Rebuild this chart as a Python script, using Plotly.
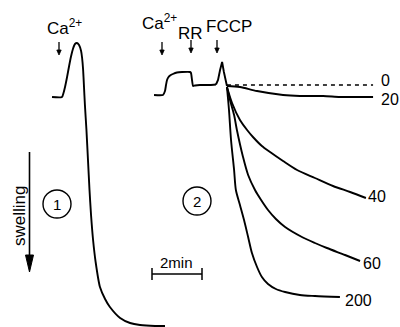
import plotly.graph_objects as go

# ---------------- data (time in min, signal in a.u.) ----------------
# trace 1: Ca2+ addition, full swelling
t1 = [2.04, 2.43, 2.49, 2.55, 2.63, 2.71, 2.78, 2.86, 2.94, 3.02, 3.10, 3.18, 3.22, 3.26,
      3.29, 3.33, 3.39, 3.45, 3.51, 3.57, 3.65, 3.75, 3.92, 4.12, 4.31, 4.71, 5.10, 5.49,
      6.08, 6.47]
s1 = [2.30, 2.30, 2.34, 2.40, 2.50, 2.61, 2.70, 2.78, 2.83, 2.84, 2.82, 2.76, 2.69, 2.57,
      2.42, 2.22, 1.97, 1.67, 1.37, 1.12, 0.87, 0.65, 0.40, 0.28, 0.20, 0.09, 0.04, 0.02,
      0.01, 0.01]

# trace 2: Ca2+, RR, then FCCP
t2 = [6.04, 6.39, 6.47, 6.51, 6.55, 6.61, 6.67, 6.78, 6.94, 7.14, 7.45, 7.49, 7.53, 7.57,
      7.65, 7.84, 8.24, 8.47]
s2 = [2.32, 2.32, 2.36, 2.42, 2.47, 2.50, 2.515, 2.53, 2.545, 2.55, 2.55, 2.54, 2.47, 2.41,
      2.415, 2.42, 2.42, 2.425]
t_fccp = [8.47, 8.55, 8.63, 8.71, 8.78, 8.86, 8.90]
s_fccp = [2.425, 2.47, 2.57, 2.65, 2.55, 2.43, 2.41]

# branches after FCCP (labels = concentration)
t_0 = [8.90, 14.63]
s_0 = [2.42, 2.42]

t_20 = [8.90, 9.41, 10.08, 11.10, 11.76, 12.67, 13.33, 13.92, 14.63]
s_20 = [2.41, 2.40, 2.36, 2.32, 2.31, 2.31, 2.30, 2.30, 2.30]

t_40 = [8.90, 9.10, 9.41, 9.69, 9.92, 10.27, 10.59, 11.10, 11.65, 12.35, 13.06, 13.73, 14.35]
s_40 = [2.40, 2.24, 2.07, 1.97, 1.90, 1.81, 1.75, 1.66, 1.57, 1.49, 1.41, 1.35, 1.29]

t_60 = [8.90, 9.02, 9.18, 9.29, 9.53, 9.73, 10.00, 10.24, 10.51, 10.82, 11.18, 11.84, 12.35,
        12.82, 13.53, 14.12]
s_60 = [2.40, 2.27, 2.12, 1.97, 1.70, 1.52, 1.37, 1.27, 1.17, 1.08, 1.00, 0.90, 0.84, 0.79,
        0.72, 0.66]

t_200 = [8.90, 8.98, 9.06, 9.18, 9.25, 9.41, 9.57, 9.73, 9.88, 10.08, 10.27, 10.51, 10.82,
         11.18, 11.76, 12.35, 13.33]
s_200 = [2.40, 2.17, 1.87, 1.57, 1.37, 1.22, 1.07, 0.90, 0.74, 0.60, 0.50, 0.43, 0.38, 0.35,
         0.32, 0.31, 0.30]

branch_labels = ["0", "20", "40", "60", "200"]

# ---------------- figure ----------------
W, H = 400, 327
PX_PER_MIN = 25.5
PX_PER_UNIT = 100.0


def X(px):
    return px / PX_PER_MIN


def Y(py):
    return (H - py) / PX_PER_UNIT


FONT = "Liberation Sans, Arial, sans-serif"
LINE = dict(color="black", width=1.9)

fig = go.Figure()
fig.add_trace(go.Scatter(x=t1, y=s1, mode="lines", line=dict(**LINE, shape="spline", smoothing=0.6)))
fig.add_trace(go.Scatter(x=t2, y=s2, mode="lines", line=dict(**LINE, shape="spline", smoothing=0.5)))
fig.add_trace(go.Scatter(x=t_fccp, y=s_fccp, mode="lines", line=LINE))
fig.add_trace(go.Scatter(x=t_0, y=s_0, mode="lines", line=dict(color="black", width=1.7, dash="4px,4px")))
for tt, ss in [(t_20, s_20), (t_40, s_40), (t_60, s_60), (t_200, s_200)]:
    fig.add_trace(go.Scatter(x=tt, y=ss, mode="lines", line=dict(**LINE, shape="spline", smoothing=0.8)))

ann = []
shapes = []


def txt(s, px, py, size=15, **kw):
    d = dict(x=X(px), y=Y(py), text=s, showarrow=False,
             font=dict(family=FONT, size=size, color="black"),
             xanchor="center", yanchor="middle")
    d.update(kw)
    ann.append(d)


def down_arrow(px, py_top, py_tip, hw=2.2, hl=5, width=1.3):
    shapes.append(dict(type="line", x0=X(px), x1=X(px), y0=Y(py_top), y1=Y(py_tip - hl + 1),
                       line=dict(color="black", width=width)))
    shapes.append(dict(type="path",
                       path=f"M {X(px - hw)},{Y(py_tip - hl)} L {X(px + hw)},{Y(py_tip - hl)} "
                            f"L {X(px)},{Y(py_tip)} Z",
                       fillcolor="black", line=dict(color="black", width=0.8)))


# labels above traces
txt("Ca<sup>2+</sup>", 64, 27, size=17)
down_arrow(59, 42, 55)
txt("Ca<sup>2+</sup>", 159, 22, size=17)
down_arrow(162, 42, 55)
txt("RR", 190, 33, size=17)
down_arrow(191, 40, 53)
txt("FCCP", 229, 26, size=17)
down_arrow(217, 40, 53)

# branch labels
label_pos = [(385, 80), (390, 99), (377, 196), (372, 263), (358, 300)]
for lab, (px, py) in zip(branch_labels, label_pos):
    txt(lab, px, py, size=16)

# circled numbers
txt("1", 57, 204, size=15)
txt("2", 197, 201, size=15)

# scale bar text
txt("2min", 176, 262, size=15)

# swelling text
txt("swelling", 19, 216, size=17, textangle=-90)

for cx, cy in [(57, 204), (197, 201)]:
    r = 14
    shapes.append(dict(type="circle", xref="x", yref="y", x0=X(cx - r), x1=X(cx + r),
                       y0=Y(cy + r), y1=Y(cy - r), line=dict(color="black", width=1.4)))
# scale bar
shapes.append(dict(type="line", x0=X(152), x1=X(202), y0=Y(274), y1=Y(274), line=dict(color="black", width=1.5)))
shapes.append(dict(type="line", x0=X(152), x1=X(152), y0=Y(268), y1=Y(280), line=dict(color="black", width=1.5)))
shapes.append(dict(type="line", x0=X(202), x1=X(202), y0=Y(268), y1=Y(280), line=dict(color="black", width=1.5)))
# swelling arrow
shapes.append(dict(type="line", x0=X(29.5), x1=X(29.5), y0=Y(152), y1=Y(258), line=dict(color="black", width=1.6)))
shapes.append(dict(type="path",
                   path=f"M {X(25.5)},{Y(255)} L {X(33.5)},{Y(255)} L {X(29.5)},{Y(272)} Z",
                   fillcolor="black", line=dict(color="black", width=1)))

fig.update_layout(
    width=W, height=H, margin=dict(l=0, r=0, t=0, b=0),
    paper_bgcolor="white", plot_bgcolor="white", showlegend=False,
    xaxis=dict(range=[0, W / PX_PER_MIN], visible=False, fixedrange=True),
    yaxis=dict(range=[0, H / PX_PER_UNIT], visible=False, fixedrange=True),
    annotations=ann, shapes=shapes,
)

fig.write_html("out.html")
